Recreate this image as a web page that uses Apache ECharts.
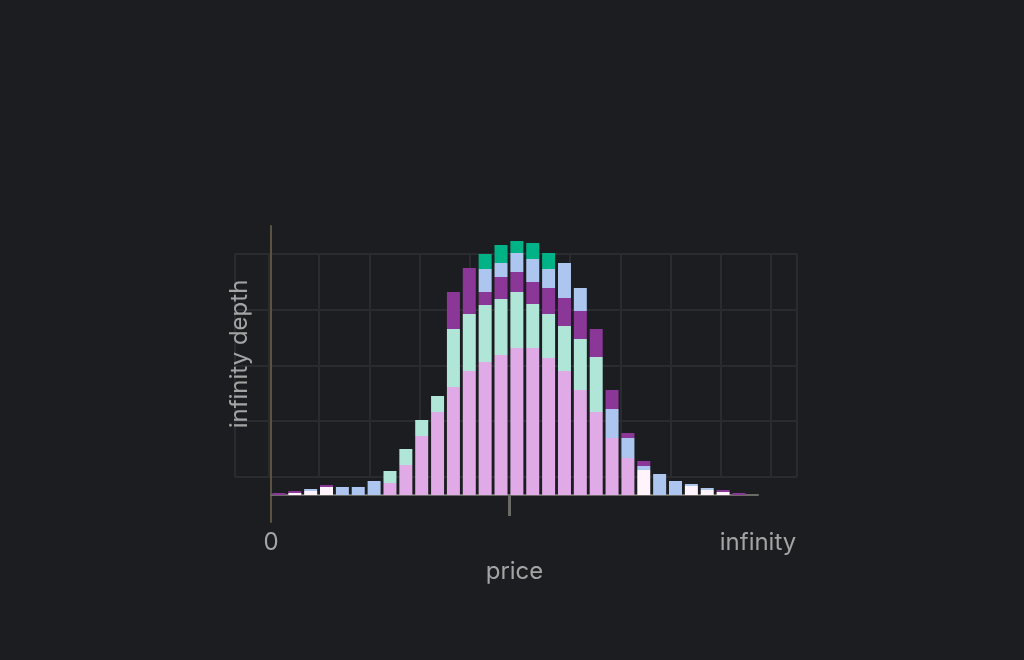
<!DOCTYPE html>
<html>
<head>
<meta charset="utf-8">
<title>depth</title>
<script src="https://cdn.jsdelivr.net/npm/echarts@6/dist/echarts.min.js"></script>
<style>
  html, body { margin: 0; padding: 0; background: #1c1d21; }
  #main { width: 1024px; height: 660px; }
</style>
</head>
<body>
<div id="main"></div>
<script>
// price buckets, left (0) to right (infinity); the mid price sits at 15
var buckets = [0.5, 1.5, 2.5, 3.5, 4.5, 5.5, 6.5, 7.5, 8.5, 9.5,
               10.5, 11.5, 12.5, 13.5, 14.5, 15.5, 16.5, 17.5, 18.5, 19.5,
               20.5, 21.5, 22.5, 23.5, 24.5, 25.5, 26.5, 27.5, 28.5, 29.5];
var midPrice = 15;
var priceEnd = 30.7;

// depth per layer, stacked bottom to top
var whiteDepth  = [0, 2, 4, 8, 0, 0, 0, 0, 0, 0,  0, 0, 0, 0, 0, 0, 0, 0, 0, 0,  0, 0, 0, 25, 0, 0, 9, 5, 3, 0];
var pinkDepth   = [0, 0, 0, 0, 0, 0, 0, 12, 30, 59,  83, 108, 124, 133, 140, 147, 147, 137, 124, 105,  83, 57, 37, 0, 0, 0, 0, 0, 0, 0];
var mintDepth   = [0, 0, 0, 0, 0, 0, 0, 12, 16, 16,  16, 58, 57, 57, 56, 56, 44, 44, 45, 51,  55, 0, 0, 0, 0, 0, 0, 0, 0, 0];
var purpleDepth = [2, 2, 0, 2, 0, 0, 0, 0, 0, 0,  0, 37, 46, 13, 22, 20, 22, 26, 28, 28,  28, 0, 0, 0, 0, 0, 0, 0, 2, 2];
var blueDepth   = [0, 0, 2, 0, 8, 8, 14, 0, 0, 0,  0, 0, 0, 23, 14, 19, 23, 19, 35, 23,  0, 29, 20, 4, 21, 14, 2, 2, 0, 0];
var purpleTop   = [0, 0, 0, 0, 0, 0, 0, 0, 0, 0,  0, 0, 0, 0, 0, 0, 0, 0, 0, 0,  0, 19, 5, 5, 0, 0, 0, 0, 0, 0];
var greenDepth  = [0, 0, 0, 0, 0, 0, 0, 0, 0, 0,  0, 0, 0, 15, 18, 12, 16, 16, 0, 0,  0, 0, 0, 0, 0, 0, 0, 0, 0, 0];

var layers = [
    { name: 'white', values: whiteDepth, color: '#fff4fb' },
    { name: 'pink', values: pinkDepth, color: '#dfaae5' },
    { name: 'mint', values: mintDepth, color: '#b0e6d8' },
    { name: 'purple', values: purpleDepth, color: '#8a3797' },
    { name: 'blue', values: blueDepth, color: '#adc6f0' },
    { name: 'purple top', values: purpleTop, color: '#8a3797' },
    { name: 'green', values: greenDepth, color: '#00b386' }
];

// depth first so the stack runs on the depth column
function pairs(values) {
    var out = [];
    for (var i = 0; i < buckets.length; i++) {
        out.push([values[i], buckets[i]]);
    }
    return out;
}

var labelColor = '#a4a4a4';
var font = 'Inter';
var gridLine = '#2a2b2f';

var series = layers.map(function (layer) {
    return {
        name: layer.name,
        type: 'bar',
        stack: 'depth',
        barWidth: 13,
        xAxisIndex: 0,
        yAxisIndex: 0,
        encode: { x: 1, y: 0 },
        itemStyle: { color: layer.color },
        emphasis: { disabled: true },
        data: pairs(layer.values)
    };
});

var myChart = echarts.init(document.getElementById('main'));
option = {
    backgroundColor: '#1c1d21',
    animation: false,
    grid: [
        { left: 271, right: 266, top: 226, bottom: 138 },
        { left: 234.5, right: 227.3, top: 253.5, bottom: 183 }
    ],
    xAxis: [{
        type: 'value',
        gridIndex: 0,
        min: 0,
        max: priceEnd,
        name: 'price',
        nameLocation: 'middle',
        nameGap: 38,
        nameTextStyle: { color: labelColor, fontSize: 24, fontFamily: font },
        axisLine: { onZero: true, lineStyle: { color: '#6b6a66', width: 2 } },
        axisTick: { show: true, customValues: [midPrice], length: 21, lineStyle: { color: '#6b6a66', width: 3 } },
        axisLabel: {
            customValues: [0, priceEnd],
            margin: 9,
            color: labelColor,
            fontSize: 24,
            fontFamily: font,
            formatter: function (v) { return v === 0 ? '0' : 'infinity'; }
        },
        splitLine: { show: false }
    }, {
        type: 'value',
        gridIndex: 1,
        min: -0.687,
        max: 10.512,
        splitNumber: 11,
        axisLine: { show: false },
        axisTick: { show: false },
        axisLabel: { show: false },
        splitLine: { show: true, lineStyle: { color: gridLine, width: 2 } }
    }],
    yAxis: [{
        type: 'value',
        gridIndex: 0,
        min: -27,
        max: 269,
        name: 'infinity depth',
        nameLocation: 'middle',
        nameGap: 19,
        nameTextStyle: { color: labelColor, fontSize: 24, fontFamily: font, padding: [0, 0, 0, 40] },
        axisLine: { show: true, onZero: false, lineStyle: { color: '#5b5243', width: 2 } },
        axisTick: { show: false },
        axisLabel: { show: false },
        splitLine: { show: false }
    }, {
        type: 'value',
        gridIndex: 1,
        min: 0,
        max: 4,
        interval: 1,
        axisLine: { show: false },
        axisTick: { show: false },
        axisLabel: { show: false },
        splitLine: { show: true, lineStyle: { color: gridLine, width: 2 } }
    }],
    series: series
};

myChart.setOption(option);
</script>
</body>
</html>
